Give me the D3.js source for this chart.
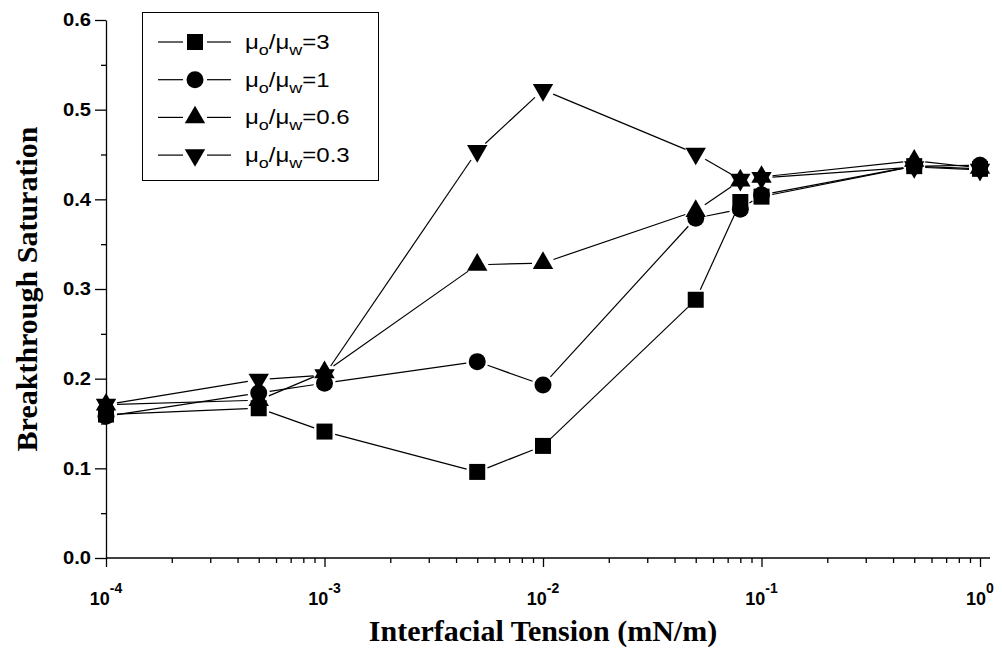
<!DOCTYPE html>
<html>
<head>
<meta charset="utf-8">
<script src="https://cdn.jsdelivr.net/npm/d3@7"></script>
<style>
  body { margin: 0; background: #fff; }
  text { fill: #000; }
</style>
</head>
<body>
<div id="chart"></div>
<script>
// interfacial tension (mN/m) on the x axis
const tension = [1e-4, 5e-4, 1e-3, 5e-3, 1e-2, 5e-2, 8e-2, 1e-1, 5e-1, 1];
// breakthrough saturation for each viscosity ratio
const ratio3  = [0.160, 0.167, 0.141, 0.096, 0.125, 0.288, 0.397, 0.403, 0.437, 0.434];
const ratio1  = [0.158, 0.184, 0.195, 0.219, 0.193, 0.379, 0.389, 0.405, 0.437, 0.438];
const ratio06 = [0.171, 0.176, 0.207, 0.327, 0.329, 0.387, 0.421, 0.425, 0.443, 0.435];
const ratio03 = [0.171, 0.199, 0.204, 0.454, 0.522, 0.451, 0.422, 0.424, 0.436, 0.433];
const ratioLabels = ["3", "1", "0.6", "0.3"];

const yMajor = [0, 0.1, 0.2, 0.3, 0.4, 0.5, 0.6];
const yMinor = [0.05, 0.15, 0.25, 0.35, 0.45, 0.55];
const xMajor = [1e-4, 1e-3, 1e-2, 1e-1, 1];
const xExponents = ["-4", "-3", "-2", "-1", "0"];

const WIDTH = 1002, HEIGHT = 654;
const MARGIN = { TOP: 20, BOTTOM: 96, LEFT: 106, RIGHT: 22 };

const svg = d3.select("#chart").append("svg")
  .attr("width", WIDTH)
  .attr("height", HEIGHT)
  .style("background", "#fff");

const x = d3.scaleLog().domain([1e-4, 1]).range([MARGIN.LEFT, WIDTH - MARGIN.RIGHT]);
const y = d3.scaleLinear().domain([0, 0.6]).range([HEIGHT - MARGIN.BOTTOM, MARGIN.TOP]);

// minor ticks between decades
const xMinor = [];
for (let e = -4; e < 0; e++) {
  for (let m = 2; m <= 9; m++) xMinor.push(m * Math.pow(10, e));
}

const tickFont = "'Liberation Sans', Arial, sans-serif";
const titleFont = "'Liberation Serif', 'Times New Roman', serif";
const TICK_STRETCH = 1.12;   // the original labels are a bit wider than Arial
const LEGEND_STRETCH = 1.2;

// y axis
const yAxis = svg.append("g").attr("transform", `translate(${x(1e-4)},0)`)
  .call(d3.axisLeft(y).tickValues(yMajor).tickSize(11).tickSizeOuter(0)
    .tickPadding(4).tickFormat(d3.format(".1f")));
yAxis.selectAll("text")
  .attr("x", -15 / TICK_STRETCH)
  .attr("transform", `scale(${TICK_STRETCH},1)`)
  .style("font-family", tickFont).style("font-weight", "bold").style("font-size", "18px");
svg.append("g").attr("transform", `translate(${x(1e-4)},0)`)
  .call(d3.axisLeft(y).tickValues(yMinor).tickSize(5).tickFormat(""))
  .select(".domain").remove();

// x axis
const xAxis = svg.append("g").attr("transform", `translate(0,${y(0)})`)
  .call(d3.axisBottom(x).tickValues(xMajor).tickSize(9).tickFormat(""));
xAxis.select(".domain").remove();
svg.append("g").attr("transform", `translate(0,${y(0)})`)
  .call(d3.axisBottom(x).tickValues(xMinor).tickSize(5).tickFormat(""))
  .select(".domain").remove();
svg.append("line")
  .attr("x1", x(1e-4)).attr("x2", x(1) + 10)
  .attr("y1", y(0)).attr("y2", y(0))
  .attr("stroke", "#000").attr("stroke-width", 1.3);

svg.selectAll("g .tick line").attr("stroke-width", 1.3);
svg.selectAll("g .domain").attr("stroke-width", 1.3);

const xLabels = svg.append("g")
  .selectAll("text")
  .data(xMajor)
  .enter().append("text")
  .attr("x", d => x(d))
  .attr("y", y(0) + 47)
  .attr("text-anchor", "middle")
  .style("font-family", tickFont)
  .style("font-weight", "bold")
  .style("font-size", "18px");
xLabels.append("tspan").text("10");
xLabels.append("tspan")
  .attr("dy", -12)
  .style("font-size", "14px")
  .text((d, i) => xExponents[i]);

// axis titles
svg.append("text")
  .attr("x", (x(1e-4) + x(1)) / 2)
  .attr("y", 641)
  .attr("text-anchor", "middle")
  .style("font-family", titleFont)
  .style("font-weight", "bold")
  .style("font-size", "30px")
  .text("Interfacial Tension (mN/m)");

svg.append("text")
  .attr("transform", `translate(37,${(y(0) + y(0.6)) / 2}) rotate(-90)`)
  .attr("text-anchor", "middle")
  .style("font-family", titleFont)
  .style("font-weight", "bold")
  .style("font-size", "30px")
  .text("Breakthrough Saturation");

// series
const series = [
  { values: ratio3, symbol: d3.symbolSquare, size: 256, rotate: 0 },
  { values: ratio1, symbol: d3.symbolCircle, size: 227, rotate: 0 },
  { values: ratio06, symbol: d3.symbolTriangle, size: 180, rotate: 0 },
  { values: ratio03, symbol: d3.symbolTriangle, size: 180, rotate: 180 }
];

const GAP = 11;

series.forEach(s => {
  const pts = tension.map((t, i) => [x(t), y(s.values[i])]);
  const segs = d3.pairs(pts).map(([a, b]) => {
    const dx = b[0] - a[0], dy = b[1] - a[1];
    const len = Math.hypot(dx, dy);
    if (len <= 2 * GAP) return null;
    const ux = dx / len, uy = dy / len;
    return [a[0] + ux * GAP, a[1] + uy * GAP, b[0] - ux * GAP, b[1] - uy * GAP];
  }).filter(Boolean);

  svg.append("g").selectAll("line")
    .data(segs)
    .enter().append("line")
    .attr("x1", d => d[0]).attr("y1", d => d[1])
    .attr("x2", d => d[2]).attr("y2", d => d[3])
    .attr("stroke", "#000")
    .attr("stroke-width", 1.2);
});

series.forEach(s => {
  const sym = d3.symbol().type(s.symbol).size(s.size);
  svg.append("g").selectAll("path")
    .data(tension)
    .enter().append("path")
    .attr("d", sym)
    .attr("transform", (d, i) => `translate(${x(d)},${y(s.values[i])}) rotate(${s.rotate})`)
    .attr("fill", "#000");
});

// legend
const legend = svg.append("g");
legend.append("rect")
  .attr("x", 142.5).attr("y", 12.5)
  .attr("width", 236).attr("height", 168)
  .attr("fill", "#fff")
  .attr("stroke", "#000")
  .attr("stroke-width", 1);

const rows = legend.selectAll("g.row")
  .data(series)
  .enter().append("g")
  .attr("class", "row")
  .attr("transform", (d, i) => `translate(0,${42 + i * 37.7})`);

rows.append("line").attr("x1", 158).attr("x2", 183).attr("y1", 0).attr("y2", 0)
  .attr("stroke", "#000").attr("stroke-width", 1.2);
rows.append("line").attr("x1", 207).attr("x2", 231).attr("y1", 0).attr("y2", 0)
  .attr("stroke", "#000").attr("stroke-width", 1.2);
rows.append("path")
  .attr("d", d => d3.symbol().type(d.symbol).size(d.size)())
  .attr("transform", d => `translate(195,0) rotate(${d.rotate})`)
  .attr("fill", "#000");

const labels = rows.append("g")
  .attr("transform", `translate(245,7) scale(${LEGEND_STRETCH},1)`)
  .append("text")
  .style("font-family", tickFont)
  .style("font-size", "20px");
labels.append("tspan").text("\u03bc");
labels.append("tspan").attr("dy", 6).style("font-size", "15px").text("o");
labels.append("tspan").attr("dy", -6).text("/\u03bc");
labels.append("tspan").attr("dy", 6).style("font-size", "15px").text("w");
labels.append("tspan").attr("dy", -6).text((d, i) => "=" + ratioLabels[i]);
</script>
</body>
</html>
